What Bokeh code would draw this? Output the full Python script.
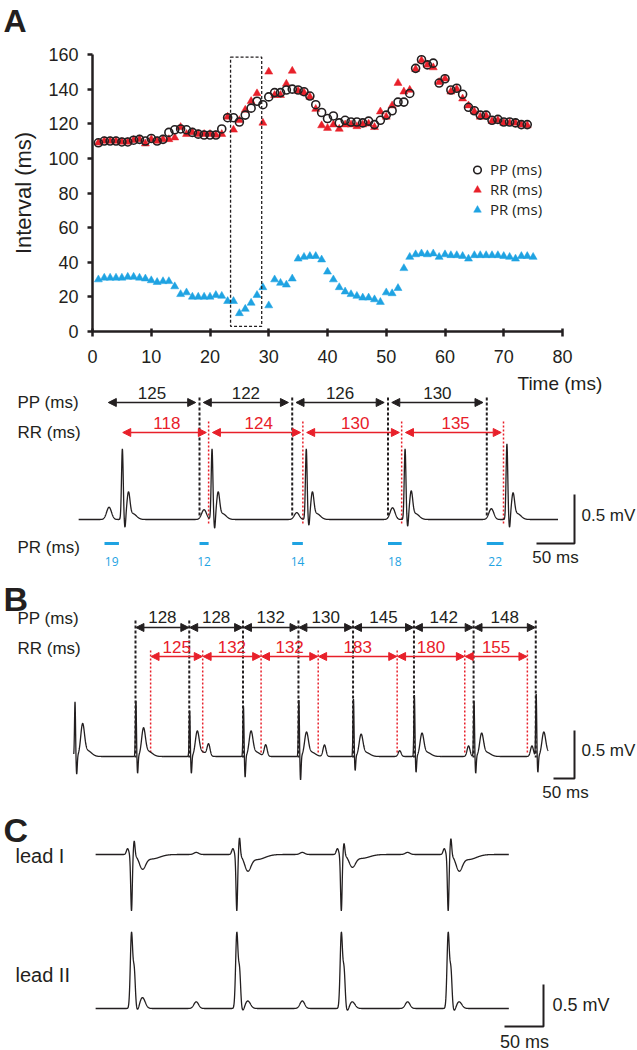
import numpy as np
from bokeh.plotting import figure
from bokeh.models import (ColumnDataSource, Legend, LegendItem, Arrow, NormalHead,
                          BoxAnnotation, FixedTicker)
from bokeh.layouts import column
from bokeh.embed import file_html
from bokeh.resources import INLINE
from bokeh.core.properties import value

# ===================== DATA =====================
# Panel A (top): beat-to-beat intervals (ms)
beat_pp = [109, 110, 110, 110, 109.5, 109.5, 110.5, 111, 110, 111.5,
           110, 111, 115, 116.5, 117, 116.5, 115, 114, 113.5, 113.5,
           113.5, 117, 123.5, 123.5, 121, 125, 129, 133, 131, 135.5,
           138, 138, 139.5, 140, 139.5, 138.5, 136, 131, 126.5, 123,
           124.5, 120.5, 122, 121, 121, 120.5, 121.5, 119.5, 122, 125,
           127.5, 132.5, 132.5, 137.5, 152, 157, 154, 155, 143.5, 146,
           139.5, 140.5, 137, 129.5, 127.5, 125, 125, 122, 122.5, 121,
           121, 120.5, 119.5, 119.5]
beat_rr = [109, 110, 110, 110, 109.5, 109.5, 110.5, 111, 108.5, 111,
           110, 111, 111, 112, 118, 114, 115, 114, 114, 114,
           113.5, 114, 124, 116.5, 122, 128, 133, 137.5, 120.5, 150,
           136.5, 136.5, 143, 150.5, 139, 138, 135.5, 128.5, 119, 117.5,
           119.5, 117, 119.5, 119.5, 118.5, 119.5, 120, 118, 127, 124,
           130.5, 143.5, 138.5, 139.5, 151.5, 156.5, 154, 152.5, 144, 146,
           138.5, 140, 134.5, 130.5, 127, 124, 124.5, 121.5, 122, 120.5,
           120.5, 120.5, 119.5, 119]
beat_pr = [30, 31, 31, 31, 31, 31.5, 31.5, 31, 30.5, 29.5,
           28.5, 29, 29, 26, 21.5, 22.5, 20, 20, 20, 20,
           21, 20.5, 17.5, 17.5, 10.5, 13, 16.5, 21, 25.5, 15,
           30, 28, 27, 30.5, 42, 43, 43.5, 43.5, 41.5, 34.5,
           30, 25.5, 23, 21.5, 20.5, 19.5, 19.5, 18.5, 17, 22.5,
           22, 25, 36.5, 43, 44.5, 45, 44.5, 45, 43, 44.5,
           44, 44, 43.5, 42, 44, 44, 44, 44, 44, 43.5,
           43, 42, 43.5, 43.5, 43]
time_pp = list(range(1, len(beat_pp) + 1))
time_pr = list(range(1, len(beat_pr) + 1))
x_ticks = list(range(0, 81, 10))
y_ticks = list(range(0, 161, 20))
highlight_time = (23.5, 28.8)
highlight_interval = (3, 158.5)

# Panel A (trace)
A_PP = [125, 122, 126, 130]
A_RR = [118, 124, 130, 135]
A_PR = [19, 12, 14, 18, 22]
A_P_AMP = [0.125, 0.10, 0.07, 0.12, 0.11]
A_R_AMP = [0.72, 0.72, 0.72, 0.72, 0.77]
A_S_AMP = [-0.08, -0.09, -0.06, -0.07, -0.08]
A_J_AMP = [0.25, 0.25, 0.25, 0.26, 0.24]
A_SPAN = (-34, 597)

# Panel B
B_PP = [128, 128, 132, 130, 145, 142, 148]
B_RR = [125, 132, 132, 183, 180, 155]
B_FIRST_SPIKE = -145
B_RED_T = [36, 160, 299, 435, 623, 784, 933]
B_P_T = [174, 310, 450, 629, 793, 944]
B_P_AMP = [0.12, 0.12, 0.12, 0.06, 0.11, 0.11]
B_UP = [0.57, 0.58, 0.48, 0.53, 0.59, 0.60, 0.64, 0.58, 0.65]
B_DN = [-0.19, -0.18, -0.18, -0.22, -0.25, -0.15, -0.17, -0.18, -0.17]
B_W = [0.31, 0.27, 0.24, 0.24, 0.23, 0.21, 0.22, 0.22, 0.23]
B_SPAN = (-147, 983)

# Panel C
C_R_T = [0, 135, 269, 406]
C_P_T = [83, 219, 354]
C_L1_DN = [-0.67, -0.67, -0.67, -0.67]
C_L1_UP = [0.17, 0.21, 0.14, 0.20]
C_L1_T = [-0.15, -0.17, -0.13, -0.17]
C_L2_R = [0.89, 0.89, 0.89, 0.89]
C_L2_POST = [0.13, 0.09, 0.08, 0.08]
C_L2_P = [0.08, 0.09, 0.08]
C_SPAN = (-46, 484)

SCALE_MS = 50
SCALE_MV = 0.5

# ===================== STYLE =====================
FONT = "Liberation Sans"
FONT2 = "Open Sans"
INK = "#231f20"
RED = "#e8202a"
BLUE = "#1fa3e2"
W = 637


def g(t, mu, sig, amp):
    return amp * np.exp(-0.5 * ((t - mu) / sig) ** 2)


def no_align(f):
    try:
        f.frame_align = False
    except Exception:
        pass


class Panel:
    def __init__(self, top, height, x0_page, px_ms, base_page, px_mv):
        self.x0, self.kx = x0_page, px_ms
        self.base, self.ky = base_page, px_mv
        xr = (-x0_page / px_ms, (W - x0_page) / px_ms)
        yr = ((base_page - (top + height)) / px_mv, (base_page - top) / px_mv)
        f = figure(width=W, height=height, x_range=xr, y_range=yr,
                   output_backend="svg", toolbar_location=None,
                   x_axis_location=None, y_axis_location=None,
                   min_border=0, outline_line_color=None)
        f.min_border_left = f.min_border_right = f.min_border_top = f.min_border_bottom = 0
        f.grid.visible = False
        no_align(f)
        self.fig = f

    def X(self, px):
        return (px - self.x0) / self.kx

    def Y(self, py):
        return (self.base - py) / self.ky

    def text(self, xs, ys, texts, size, color=INK, align="left", font=FONT,
             style="normal", baseline="middle"):
        self.fig.text(x=xs, y=ys, text=texts, text_font=value(font),
                      text_font_size=value(size), text_color=color,
                      text_align=align, text_baseline=baseline,
                      text_font_style=style)

    def arrows(self, x0, x1, y, color, lw=1.5, size=8):
        src = ColumnDataSource(dict(x0=list(x0), x1=list(x1), y=[y] * len(x0)))
        self.fig.add_layout(Arrow(
            x_start="x0", y_start="y", x_end="x1", y_end="y", source=src,
            line_color=color, line_width=lw,
            start=NormalHead(size=size, fill_color=color, line_color=color, line_width=1),
            end=NormalHead(size=size, fill_color=color, line_color=color, line_width=1)))

    def vlines(self, xs, y0, y1, color, dash, lw):
        src = ColumnDataSource(dict(x=list(xs), y0=[y0] * len(xs), y1=[y1] * len(xs)))
        self.fig.segment(x0="x", y0="y0", x1="x", y1="y1", source=src,
                         line_color=color, line_dash=dash, line_width=lw)

    def scalebar(self, cx_page, cy_page, mv_txt_xy, ms_txt_xy, size="17px"):
        cx, cy = self.X(cx_page), self.Y(cy_page)
        self.fig.line([cx - SCALE_MS, cx, cx], [cy, cy, cy + SCALE_MV],
                      line_color=INK, line_width=2)
        self.text([self.X(mv_txt_xy[0])], [self.Y(mv_txt_xy[1])], ["0.5 mV"], size)
        self.text([self.X(ms_txt_xy[0])], [self.Y(ms_txt_xy[1])], ["50 ms"], size,
                  align="center")


# ===================== panel letter strip =====================
TOP_STRIP = 42
pT = Panel(top=0, height=TOP_STRIP, x0_page=0, px_ms=1, base_page=TOP_STRIP, px_mv=1)
pT.text([pT.X(3)], [pT.Y(20)], ["A"], "32px", style="bold")

# ===================== PANEL A: scatter =====================
H1 = 372 - TOP_STRIP
FL, FT, FW, FH = 92, 54 - TOP_STRIP, 470, 277
p1 = figure(width=W, height=H1, x_range=(0, 80), y_range=(0, 160),
            output_backend="svg", toolbar_location=None,
            min_border_left=FL, min_border_right=W - FL - FW,
            min_border_top=FT, min_border_bottom=H1 - FT - FH)
no_align(p1)
p1.outline_line_color = None
p1.grid.visible = False
p1.xaxis.ticker = FixedTicker(ticks=x_ticks)
p1.yaxis.ticker = FixedTicker(ticks=y_ticks)
for ax in (p1.xaxis[0], p1.yaxis[0]):
    ax.axis_line_width = 2.5
    ax.axis_line_color = INK
    ax.major_tick_line_width = 2.5
    ax.major_tick_line_color = INK
    ax.minor_tick_line_color = None
    ax.major_label_text_font = FONT
    ax.major_label_text_font_size = "18px"
    ax.major_label_text_color = INK
p1.xaxis.major_tick_in = 3
p1.xaxis.major_tick_out = 5
p1.xaxis.major_label_standoff = 13
p1.yaxis.major_tick_in = 0
p1.yaxis.major_tick_out = 5
p1.yaxis.major_label_standoff = 9
p1.yaxis.axis_label = "Interval (ms)"
p1.yaxis.axis_label_text_font = FONT
p1.yaxis.axis_label_text_font_size = "22px"
p1.yaxis.axis_label_text_font_style = "normal"
p1.yaxis.axis_label_text_color = INK
p1.yaxis.axis_label_standoff = 9

p1.add_layout(BoxAnnotation(left=highlight_time[0], right=highlight_time[1],
                            bottom=highlight_interval[0], top=highlight_interval[1],
                            fill_color=None, fill_alpha=0, line_color=INK,
                            line_alpha=1, line_dash="3 2", line_width=1.3))

r_rr = p1.scatter(time_pp, beat_rr, marker="triangle", size=8,
                  fill_color=RED, line_color=RED, line_width=0.5)
r_pr = p1.scatter(time_pr, beat_pr, marker="triangle", size=8,
                  fill_color=BLUE, line_color=BLUE, line_width=0.5)
r_pp = p1.scatter(time_pp, beat_pp, marker="circle", size=8,
                  fill_color=None, line_color=INK, line_width=1.6)

legend = Legend(items=[LegendItem(label="PP (ms)", renderers=[r_pp]),
                       LegendItem(label="RR (ms)", renderers=[r_rr]),
                       LegendItem(label="PR (ms)", renderers=[r_pr])],
                location=(375, 112), padding=0, margin=0, spacing=0,
                glyph_width=20, glyph_height=19, label_height=19,
                label_standoff=3, label_text_font=FONT2,
                label_text_font_size="15px", label_text_color=INK,
                border_line_alpha=0, background_fill_alpha=0)
p1.add_layout(legend)

# ===================== PANEL A: trace =====================
pA = Panel(top=372, height=206, x0_page=104, px_ms=0.76, base_page=519, px_mv=98)
a_p_on = np.concatenate([[0], np.cumsum(A_PP)])
a_r_on = a_p_on + np.array(A_PR)
tA = np.arange(A_SPAN[0], A_SPAN[1], 0.25)
vA = np.zeros_like(tA)
for i in range(len(a_p_on)):
    vA += g(tA, a_p_on[i] + 6, 3.2, A_P_AMP[i])
    vA += g(tA, a_r_on[i] + 4.5, 1.1, A_R_AMP[i])
    vA += g(tA, a_r_on[i] + 8, 0.9, A_S_AMP[i] - 0.03)
    vA += g(tA, a_r_on[i] + 12.5, 2.0, A_J_AMP[i])
    vA += g(tA, a_r_on[i] + 18, 5, 0.06)

pA.text([pA.X(517)], [pA.Y(383)], ["Time (ms)"], "19px")
pA.text([pA.X(17)] * 3, [pA.Y(402), pA.Y(432), pA.Y(547)],
        ["PP (ms)", "RR (ms)", "PR (ms)"], "17px")
pA.vlines(a_p_on[1:], pA.Y(397), pA.Y(517), INK, "3 2", 2)
pA.vlines(a_r_on[1:], pA.Y(421), pA.Y(524), RED, "2 2", 1.5)
pA.fig.line(tA, vA, line_color=INK, line_width=1.3)
pA.arrows(a_p_on[:-1] + 5, a_p_on[1:] - 5, pA.Y(402), INK)
pA.arrows(a_r_on[:-1] + 5, a_r_on[1:] - 3, pA.Y(432), RED)
pA.text(list((a_p_on[:-1] + a_p_on[1:]) / 2), [pA.Y(392)] * len(A_PP),
        [str(v) for v in A_PP], "17px", align="center")
pA.text(list((a_r_on[:-1] + a_r_on[1:]) / 2 + 4), [pA.Y(422.5)] * len(A_RR),
        [str(v) for v in A_RR], "17px", color=RED, align="center")
prsrc = ColumnDataSource(dict(x0=list(a_p_on), x1=list(a_r_on), y=[pA.Y(543)] * len(A_PR)))
pA.fig.segment(x0="x0", y0="y", x1="x1", y1="y", source=prsrc,
               line_color=BLUE, line_width=3)
pA.text(list((a_p_on + a_r_on) / 2), [pA.Y(561)] * len(A_PR),
        [str(v) for v in A_PR], "12px", color=BLUE, align="center", font=FONT2)
pA.scalebar(574, 543, (581, 515), (555, 557))

# ===================== PANEL B =====================
pB = Panel(top=578, height=227, x0_page=135, px_ms=0.42, base_page=756, px_mv=96)
b_black = np.concatenate([[0], np.cumsum(B_PP)])
b_spikes = [B_FIRST_SPIKE] + list(b_black)
b_red = np.array(B_RED_T)
tB = np.arange(B_SPAN[0], B_SPAN[1], 0.25)
vB = np.zeros_like(tB)
for i, ts in enumerate(b_spikes):
    vB += g(tB, ts + 1, 1.2, B_UP[i])
    vB += g(tB, ts + 5, 1.3, B_DN[i])
    vB += g(tB, ts + 19, 4.5, B_W[i])
    vB += g(tB, ts + 30, 10, 0.2 * B_W[i])
for tp, a in zip(B_P_T, B_P_AMP):
    vB += g(tB, tp, 3.5, a)

pB.text([pB.X(3)], [pB.Y(598)], ["B"], "34px", style="bold")
pB.text([pB.X(17)] * 2, [pB.Y(618), pB.Y(648)], ["PP (ms)", "RR (ms)"], "17px")
pB.vlines(b_black, pB.Y(620), pB.Y(757), INK, "3 2", 2)
pB.vlines(b_red, pB.Y(650), pB.Y(753), RED, "2 2", 1.5)
pB.fig.line(tB, vB, line_color=INK, line_width=1.3)
pB.arrows(b_black[:-1] + 1, b_black[1:] - 1, pB.Y(627), INK)
pB.arrows(b_red[:-1] + 1, b_red[1:] - 1, pB.Y(656), RED)
pB.text(list((b_black[:-1] + b_black[1:]) / 2), [pB.Y(616)] * len(B_PP),
        [str(v) for v in B_PP], "17px", align="center")
pB.text(list((b_red[:-1] + b_red[1:]) / 2), [pB.Y(646)] * len(B_RR),
        [str(v) for v in B_RR], "17px", color=RED, align="center")
pB.scalebar(574, 778, (581, 750), (565, 792))

# ===================== PANEL C =====================
pC = Panel(top=805, height=245, x0_page=131, px_ms=0.78, base_page=1008, px_mv=84)
lead1_offset = pC.Y(854)
tC = np.arange(C_SPAN[0], C_SPAN[1], 0.25)
v1 = np.zeros_like(tC)
v2 = np.zeros_like(tC)
for i, tr in enumerate(C_R_T):
    v1 += g(tC, tr - 5, 1.5, 0.07)
    v1 += g(tC, tr, 1.0, C_L1_DN[i])
    v1 += g(tC, tr + 3.5, 1.0, C_L1_UP[i])
    v1 += g(tC, tr + 14, 4, C_L1_T[i])
    v1 += g(tC, tr + 26, 10, 0.35 * C_L1_T[i])
    v2 += g(tC, tr, 1.5, C_L2_R[i])
    v2 += g(tC, tr + 3.5, 1.4, 0.5 * C_L2_R[i])
    v2 += g(tC, tr + 8, 2, -0.04)
    v2 += g(tC, tr + 14, 3.5, C_L2_POST[i])
for tp, a in zip(C_P_T, C_L2_P):
    v2 += g(tC, tp, 3, a)
    v1 += g(tC, tp, 3, 0.025)

pC.text([pC.X(3)], [pC.Y(829)], ["C"], "34px", style="bold")
pC.text([pC.X(15)] * 2, [pC.Y(855), pC.Y(974)], ["lead I", "lead II"], "20px")
pC.fig.line(tC, v1 + lead1_offset, line_color=INK, line_width=1.3)
pC.fig.line(tC, v2, line_color=INK, line_width=1.3)
pC.scalebar(543, 1026, (552, 1004), (524, 1041), size="18px")

layout = column(pT.fig, p1, pA.fig, pB.fig, pC.fig, spacing=0)
open("out.html", "w").write(file_html(layout, INLINE))
